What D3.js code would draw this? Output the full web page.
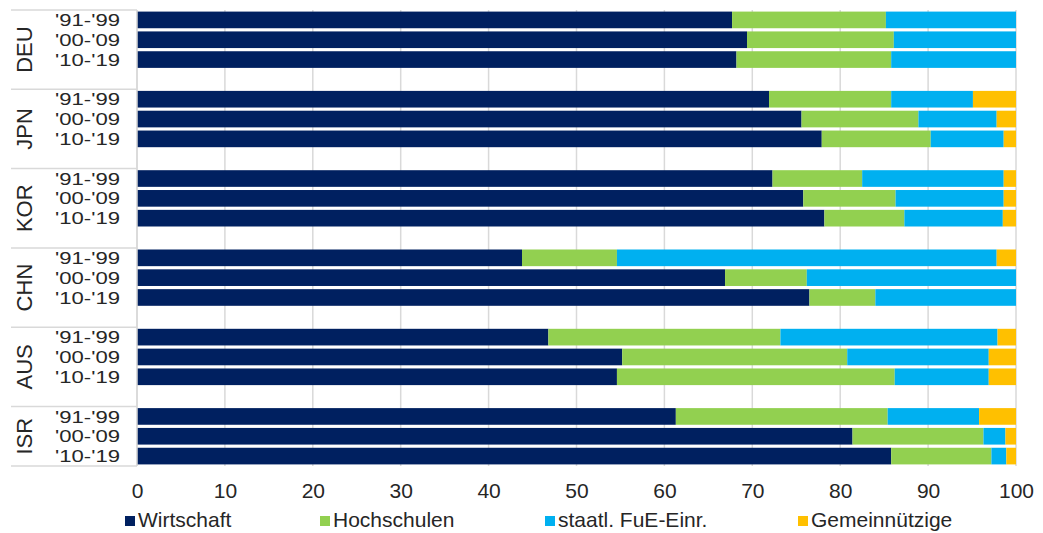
<!DOCTYPE html>
<html>
<head>
<meta charset="utf-8">
<script src="https://cdn.jsdelivr.net/npm/d3@7"></script>
<style>
  html, body { margin: 0; padding: 0; background: #fff; }
  svg text { font-family: "Liberation Sans", Arial, sans-serif; fill: #262626; }
</style>
</head>
<body>
<svg id="chart" width="1043" height="533"></svg>
<script>
const countries = ["DEU", "JPN", "KOR", "CHN", "AUS", "ISR"];
const periods = ["'91-'99", "'00-'09", "'10-'19"];
const seriesNames = ["Wirtschaft", "Hochschulen", "staatl. FuE-Einr.", "Gemeinnützige"];
const seriesColors = ["#002060", "#92D050", "#00B0F0", "#FFC000"];
const xTicks = [0, 10, 20, 30, 40, 50, 60, 70, 80, 90, 100];

// values per country, in period order
const wirtschaft = [
  [67.7, 69.4, 68.2],
  [71.9, 75.6, 77.9],
  [72.3, 75.8, 78.2],
  [43.8, 66.9, 76.5],
  [46.8, 55.2, 54.6],
  [61.3, 81.4, 85.8]
];
const hochschulen = [
  [17.5, 16.7, 17.6],
  [13.9, 13.3, 12.4],
  [10.2, 10.5, 9.1],
  [10.8, 9.3, 7.5],
  [26.4, 25.6, 31.6],
  [24.1, 14.9, 11.4]
];
const staatl = [
  [14.8, 13.9, 14.2],
  [9.3, 8.9, 8.3],
  [16.1, 12.3, 11.2],
  [43.2, 23.8, 16.0],
  [24.7, 16.1, 10.7],
  [10.4, 2.5, 1.7]
];
const gemeinnuetzige = [
  [0, 0, 0],
  [4.9, 2.2, 1.4],
  [1.4, 1.4, 1.5],
  [2.2, 0, 0],
  [2.1, 3.1, 3.1],
  [4.2, 1.2, 1.1]
];

const seriesData = [wirtschaft, hochschulen, staatl, gemeinnuetzige];
const svg = d3.select("#chart");

// rows: 3 periods per country + blank row between groups
const rowKeys = [];
const rows = [];
countries.forEach((c, ci) => {
  periods.forEach((p, pi) => {
    const key = c + "|" + p;
    rowKeys.push(key);
    const r = { key, country: c, period: p };
    seriesNames.forEach((s, si) => { r[s] = seriesData[si][ci][pi]; });
    rows.push(r);
  });
  if (ci < countries.length - 1) rowKeys.push(c + "|blank");
});

const plotLeft = 137, plotRight = 1016, plotTop = 10, plotBottom = 466;
const x = d3.scaleLinear().domain([0, 100]).range([plotLeft, plotRight]);
const y = d3.scaleBand().domain(rowKeys).range([plotTop, plotBottom]).paddingInner(0.16).paddingOuter(0.08);
const step = y.step();

// gridlines
svg.append("g").selectAll("line").data(xTicks).join("line")
  .attr("x1", d => x(d)).attr("x2", d => x(d))
  .attr("y1", plotTop).attr("y2", plotBottom)
  .attr("stroke", "#d9d9d9").attr("stroke-width", 1.5);

// stacked bars
const stack = d3.stack().keys(seriesNames);
const stacked = stack(rows);
svg.append("g").selectAll("g").data(stacked).join("g")
  .attr("fill", (d, i) => seriesColors[i])
  .selectAll("rect").data(d => d).join("rect")
  .attr("x", d => x(d[0]))
  .attr("width", d => Math.max(0, x(d[1]) - x(d[0])))
  .attr("y", d => y(d.data.key))
  .attr("height", y.bandwidth());

// left category axis frame
const groupBounds = countries.map((c, ci) => {
  const top = plotTop + ci * 4 * step;
  const bottom = ci < countries.length - 1 ? top + 4 * step : plotBottom;
  return { c, top, bottom };
});
const frame = svg.append("g").attr("stroke", "#d9d9d9").attr("stroke-width", 1.5);
frame.append("line").attr("x1", plotLeft).attr("x2", plotLeft).attr("y1", plotTop).attr("y2", plotBottom);
const sepYs = [plotTop].concat(groupBounds.map(g => g.bottom));
frame.selectAll("line.sep").data(sepYs).join("line").attr("class", "sep")
  .attr("x1", 11).attr("x2", plotLeft).attr("y1", d => d).attr("y2", d => d);

// period labels (slightly widened glyphs, like the reference)
svg.append("g").selectAll("text").data(rows).join("text")
  .attr("transform", d => `translate(120,${y(d.key) + y.bandwidth() / 2}) scale(1.3,1)`)
  .attr("dy", "0.36em")
  .attr("text-anchor", "end")
  .attr("font-size", 17)
  .text(d => d.period);

// country labels (rotated)
svg.append("g").selectAll("text").data(groupBounds).join("text")
  .attr("transform", d => `translate(${32},${(d.top + d.bottom) / 2}) rotate(-90)`)
  .attr("text-anchor", "middle")
  .attr("font-size", 22)
  .text(d => d.c);

// x axis tick labels
const xAxis = d3.axisBottom(x).tickValues(xTicks).tickSize(0).tickPadding(0).tickFormat(d3.format("d"));
const ax = svg.append("g").attr("transform", `translate(0,${plotBottom})`).call(xAxis);
ax.select(".domain").remove();
ax.selectAll("text")
  .attr("y", 32).attr("dy", 0)
  .attr("font-size", 21)
  .attr("font-family", "Liberation Sans, Arial, sans-serif")
  .attr("fill", "#262626");

// legend
const legendX = [125, 320, 545, 798];
const legend = svg.append("g").selectAll("g").data(seriesNames).join("g")
  .attr("transform", (d, i) => `translate(${legendX[i]},0)`);
legend.append("rect").attr("x", 0).attr("y", 516).attr("width", 10).attr("height", 10)
  .attr("fill", (d, i) => seriesColors[i]);
legend.append("text").attr("x", 13).attr("y", 527).attr("font-size", 21).text(d => d);
</script>
</body>
</html>
